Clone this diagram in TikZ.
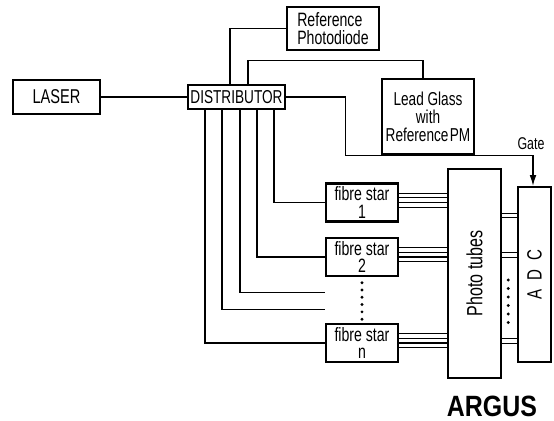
\documentclass[tikz,border=0pt]{standalone}
\usepackage{fontspec}
\usepackage{graphicx}
\setmainfont{Liberation Sans}[FakeStretch=0.73]
\newfontfamily\argusfont{Liberation Sans}[FakeStretch=0.85]
\usetikzlibrary{arrows.meta,calc}

\begin{document}
\begin{tikzpicture}[x=0.75pt,y=-0.75pt,
  font=\fontsize{14.5}{13}\selectfont,
  box/.style={draw,line width=1.8pt,align=center,inner sep=1pt},
  star/.style={box,minimum width=54pt,minimum height=28.5pt},
  wire/.style={line width=.8pt},
  arr/.style={wire,-{Latex[length=8pt,width=5pt]}}
]
\useasboundingbox (0,0) rectangle (554,421);
\node[box,minimum width=65.25pt,minimum height=25.5pt,font=\fontsize{15}{15}\selectfont] (laser) at (56.5,97) {LASER};
\node[box,inner sep=0pt,minimum width=72.75pt,minimum height=18pt,font=\fontsize{14}{14}\selectfont] (dist) at (236.5,97) {DISTRIBUTOR};
\node[box,align=left,minimum width=69pt,minimum height=32.25pt,font=\fontsize{14.5}{14}\selectfont] (diode) at (333,28.5) {Reference\\Photodiode};
\node[box,minimum width=69pt,minimum height=56.25pt,font=\fontsize{14}{13.5}\selectfont] (lead) at (428,116.5) {Lead Glass\\with\\Reference\hspace{1pt}PM};
\node[star] (st1) at (362,202.5) {fibre star\\1};
\node[star] (st2) at (362,257) {fibre star\\2};
\node[star] (stn) at (362,343) {fibre star\\n};
\node[box,minimum width=39.75pt,minimum height=156.75pt,font=\fontsize{16.5}{16}\selectfont] (tubes) at (474.5,273.5) {\rotatebox{90}{Photo tubes}};
\node[box,minimum width=24.75pt,minimum height=131.25pt,font=\fontsize{15.5}{15}\selectfont] (adc) at (534.5,274.5) {\rotatebox{90}{A\hspace{7pt}D\hspace{7pt}C}};
\node[font=\fontsize{12.75}{13}\selectfont] (gate) at (531,144) {Gate};
\node[inner sep=0pt,font=\argusfont\bfseries\fontsize{22}{22}\selectfont] (argus) at (492,406) {ARGUS};
\coordinate (sp1) at ($(st2.south west)+(0,15)$);
\coordinate (sp2) at ($(st2.south west)+(0,32)$);
\draw[wire] (laser.east) -- (dist.west);
\draw[wire] ($(dist.north)+(-6.5,0)$) |- (diode.west);
\draw[wire] ($(dist.north)+(11.5,0)$) -- ++(0,-23) -| ($(lead.north)+(-5,0)$);
\draw[arr] (dist.east) -- ++(59,0) |- ($(adc.north)+(-1.5,-30)$) -- ($(adc.north)+(-1.5,0)$);
\draw[wire] ($(dist.south)+(37.5,0)$) |- (st1.west);
\draw[wire] ($(dist.south)+(20.5,0)$) |- (st2.west);
\draw[wire] ($(dist.south)+(3.5,0)$) |- (sp1);
\draw[wire] ($(dist.south)+(-14.5,0)$) |- (sp2);
\draw[wire] ($(dist.south)+(-31.5,0)$) |- (stn.west);
\foreach \s in {st1,st2,stn}
  \foreach \d in {7,3.5,0,-3.5}
    \draw[wire] ([yshift=\d pt]\s.east) -- ([yshift=\d pt]\s.east -| tubes.west);
\foreach \d in {45.2,41.8,15.6,12.2,-48.9,-52.3}
  \draw[wire] ([yshift=\d pt]tubes.east) -- ([yshift=\d pt]tubes.east -| adc.west);
\foreach \t in {0.12,0.28,0.44,0.6,0.76,0.92}
  \fill ($(st2.south)!\t!(stn.north)$) circle (1.2pt);
\foreach \k in {0,...,5}
  \fill ($(tubes.east)+(6,{6.5+\k*8.5})$) circle (1.2pt);
\end{tikzpicture}
\end{document}
